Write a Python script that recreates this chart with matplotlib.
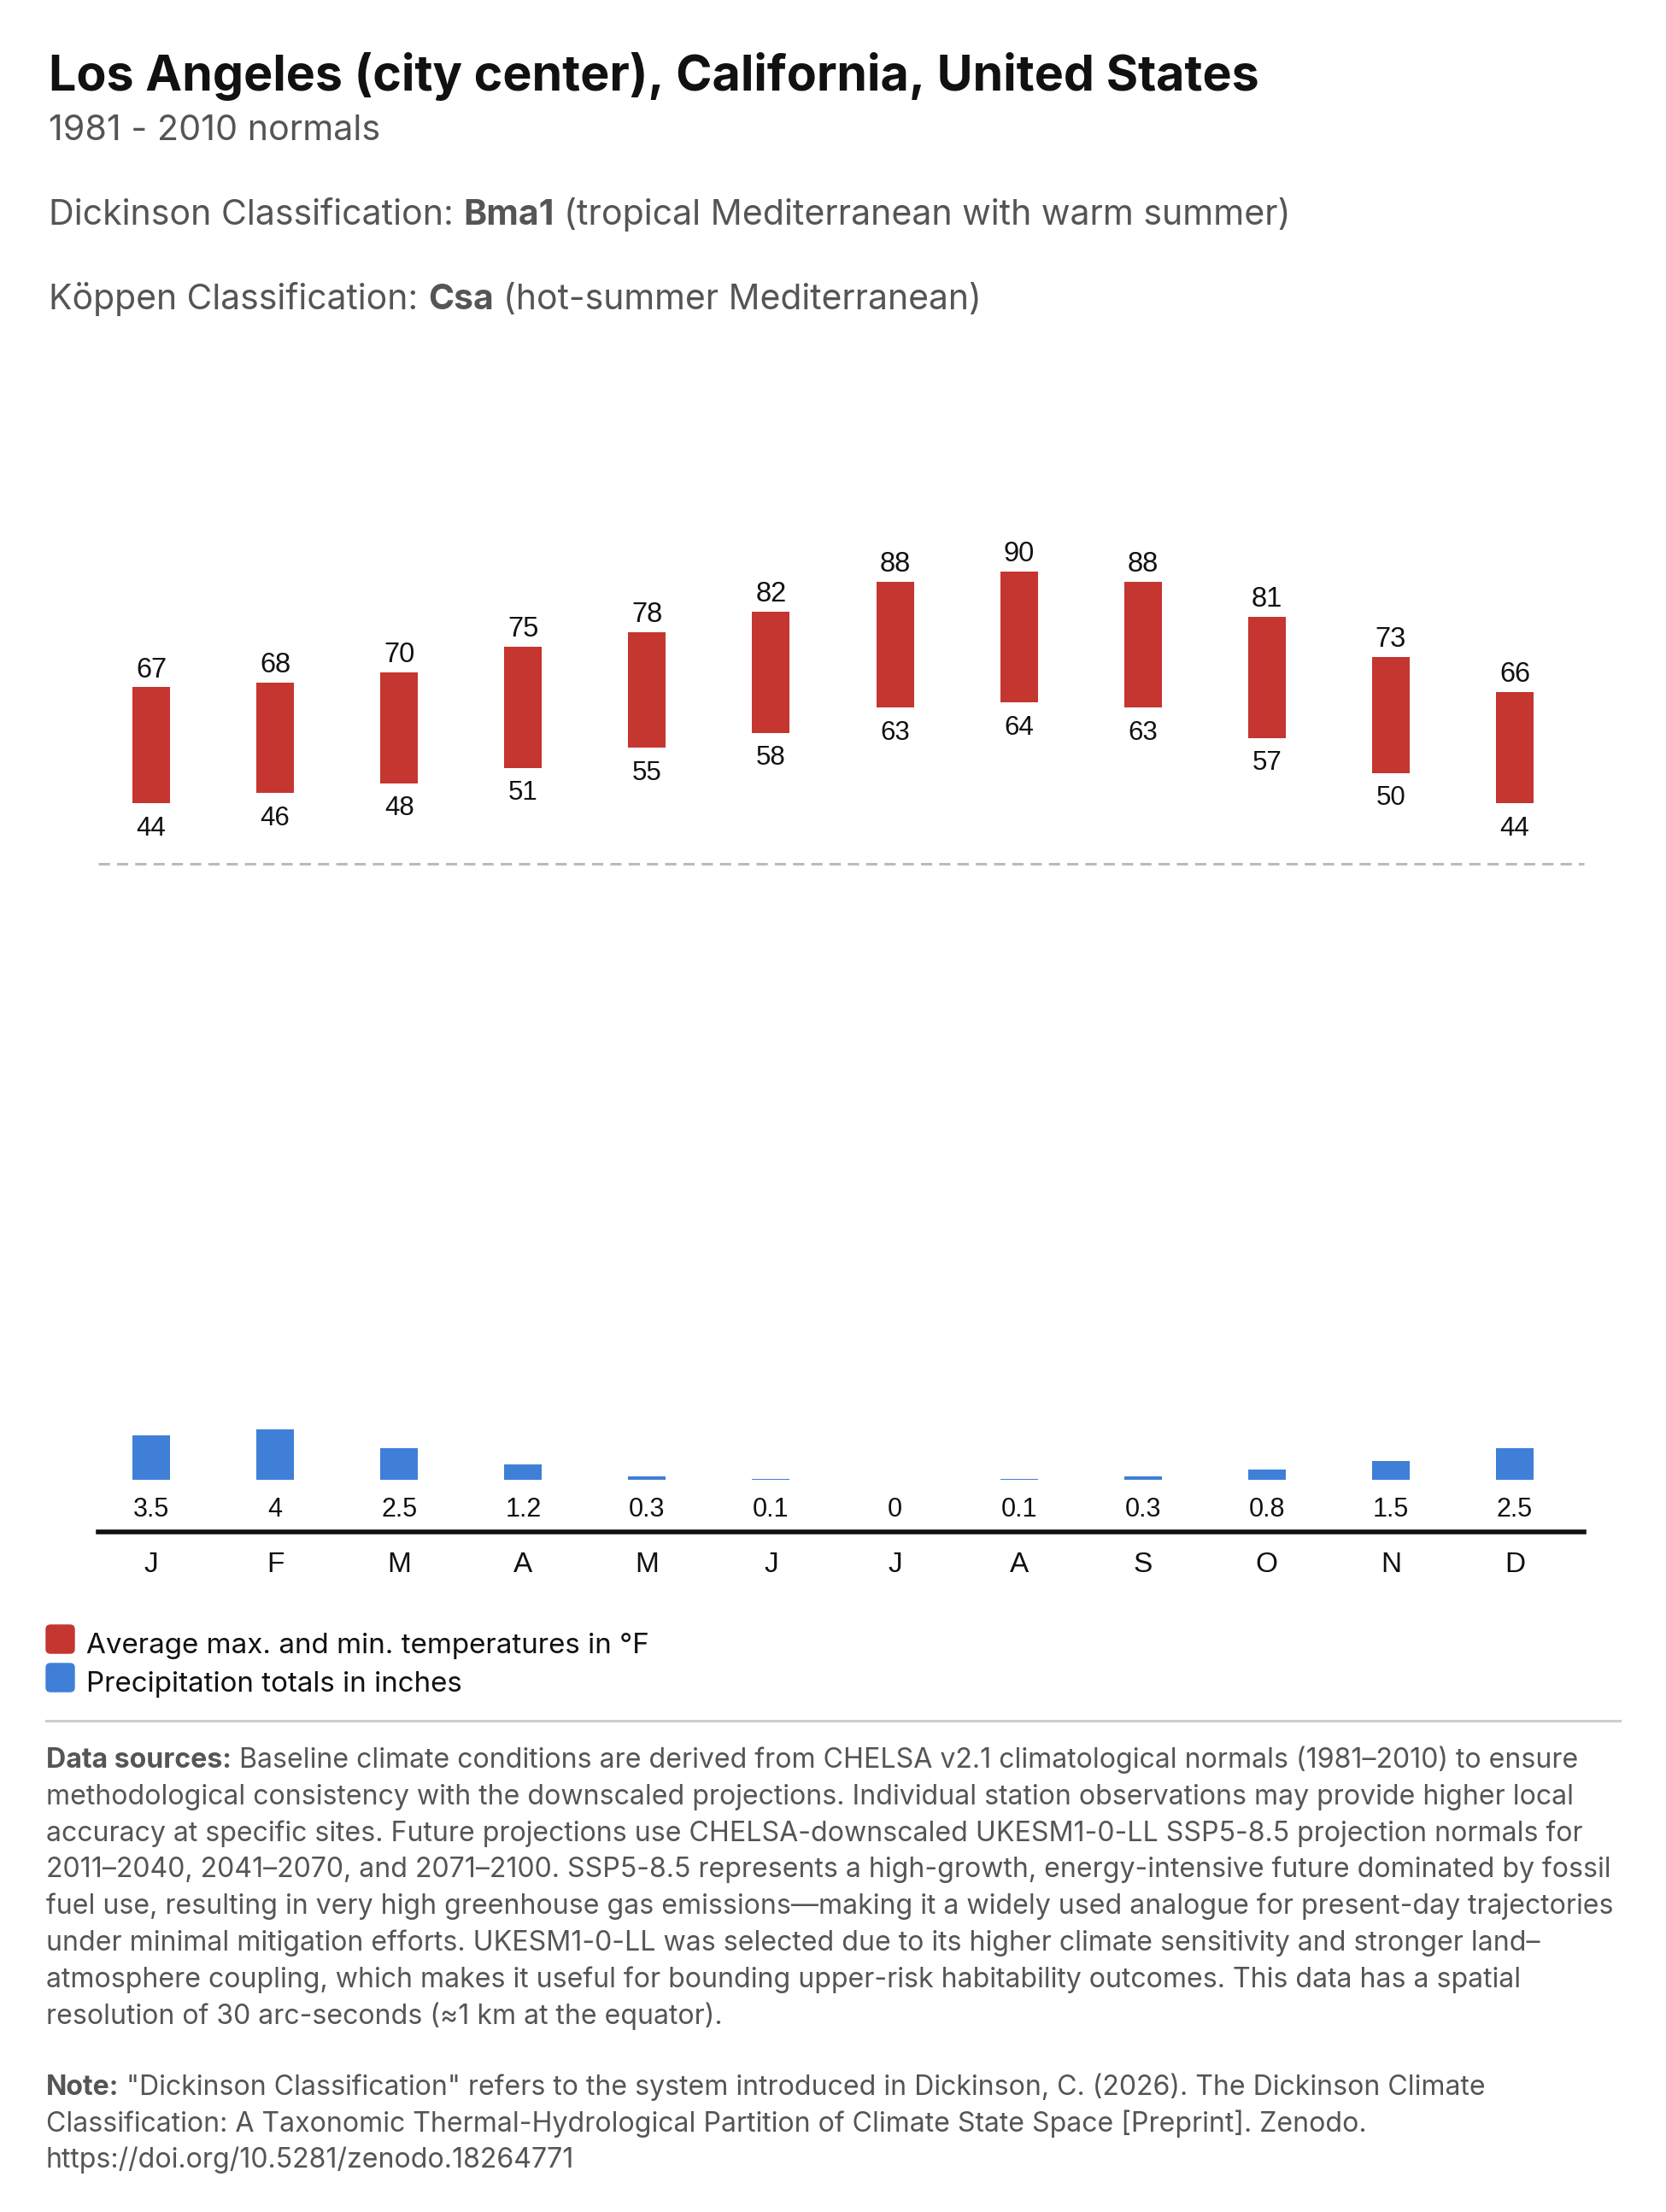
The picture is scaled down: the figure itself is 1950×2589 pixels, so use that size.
import matplotlib.pyplot as plt
from matplotlib.patches import FancyBboxPatch
from matplotlib.lines import Line2D
import numpy as np

# monthly normals, Los Angeles 1981-2010
months = ['J', 'F', 'M', 'A', 'M', 'J', 'J', 'A', 'S', 'O', 'N', 'D']
t_max = [67, 68, 70, 75, 78, 82, 88, 90, 88, 81, 73, 66]
t_min = [44, 46, 48, 51, 55, 58, 63, 64, 63, 57, 50, 44]
precip = [3.5, 4, 2.5, 1.2, 0.3, 0.1, 0, 0.1, 0.3, 0.8, 1.5, 2.5]

title = 'Los Angeles (city center), California, United States'
subtitle = '1981 - 2010 normals'
legend_labels = ['Average max. and min. temperatures in °F', 'Precipitation totals in inches']

sources = [
    'Baseline climate conditions are derived from CHELSA v2.1 climatological normals (1981–2010) to ensure',
    'methodological consistency with the downscaled projections. Individual station observations may provide higher local',
    'accuracy at specific sites. Future projections use CHELSA-downscaled UKESM1-0-LL SSP5-8.5 projection normals for',
    '2011–2040, 2041–2070, and 2071–2100. SSP5-8.5 represents a high-growth, energy-intensive future dominated by fossil',
    'fuel use, resulting in very high greenhouse gas emissions—making it a widely used analogue for present-day trajectories',
    'under minimal mitigation efforts. UKESM1-0-LL was selected due to its higher climate sensitivity and stronger land–',
    'atmosphere coupling, which makes it useful for bounding upper-risk habitability outcomes. This data has a spatial',
    'resolution of 30 arc-seconds (≈1 km at the equator).',
]
note = [
    '"Dickinson Classification" refers to the system introduced in Dickinson, C. (2026). The Dickinson Climate',
    'Classification: A Taxonomic Thermal-Hydrological Partition of Climate State Space [Preprint]. Zenodo.',
    'https://doi.org/10.5281/zenodo.18264771',
]

RED = '#c4362f'
BLUE = '#3f7fd7'
GREY = '#555555'
UI = ['Inter', 'DejaVu Sans']
CH = ['Liberation Sans', 'DejaVu Sans']

W, H = 1950, 2589
fig = plt.figure(figsize=(W / 100, H / 100), dpi=100)
r = fig.canvas.get_renderer()


def fx(x):
    return x / W


def fy(y):
    return 1 - y / H


def text_w(s, size, bold=False):
    t = fig.text(0, 0, s, fontsize=size, family=UI, weight='bold' if bold else 'normal')
    w = t.get_window_extent(r).width
    t.remove()
    return w


def rich(x, y, parts, size, color):
    # parts: list of (string, bold), joined by single spaces
    sp = text_w('x x', size) - text_w('xx', size)
    for s, bold in parts:
        t = fig.text(fx(x), fy(y), s, fontsize=size, family=UI, color=color,
                     weight='bold' if bold else 'normal', va='baseline')
        x += t.get_window_extent(r).width + sp


# header
fig.text(fx(57), fy(106), title, fontsize=41.3, weight='bold', family=UI, color='#111111', va='baseline')
fig.text(fx(57), fy(164), subtitle, fontsize=29.7, family=UI, color=GREY, va='baseline')
rich(57, 263, [('Dickinson Classification:', False), ('Bma1', True),
               ('(tropical Mediterranean with warm summer)', False)], 29.6, GREY)
rich(57, 362, [('Köppen Classification:', False), ('Csa', True),
               ('(hot-summer Mediterranean)', False)], 29.4, GREY)

# chart geometry
x = np.arange(len(months))
x0, x1 = 115, 1854
xlim = (-(177 - 115) / 145.1, 11 + (1854 - 1773) / 145.1)
bw = 0.303

# temperatures
ax_t = fig.add_axes([fx(x0), fy(1011), fx(x1) - fx(x0), (95 - 32) * 5.9 / H])
ax_t.bar(x, np.array(t_max) - np.array(t_min), bottom=t_min, width=bw, color=RED)
ax_t.axhline(32, color='#bbbbbb', lw=2.2, dashes=(4.3, 2.7), clip_on=False)
ax_t.set_xlim(xlim)
ax_t.set_ylim(32, 95)
ax_t.axis('off')
for i in range(len(months)):
    ax_t.annotate(str(t_max[i]), (x[i], t_max[i]), xytext=(0, 8.6), textcoords='offset points',
                  ha='center', va='baseline', fontsize=23.5, family=CH, color='#111111')
    ax_t.annotate(str(t_min[i]), (x[i], t_min[i]), xytext=(0, -27), textcoords='offset points',
                  ha='center', va='baseline', fontsize=22.5, family=CH, color='#111111')

# precipitation
ax_p = fig.add_axes([fx(x0), fy(1792.5), fx(x1) - fx(x0), (1792.5 - 1658) / H])
ax_p.bar(x, precip, width=bw, color=BLUE)
ax_p.set_xlim(xlim)
ax_p.set_ylim(-60.5 / 14.8, 5)
for s in ['top', 'left', 'right']:
    ax_p.spines[s].set_visible(False)
ax_p.spines['bottom'].set_linewidth(4)
ax_p.spines['bottom'].set_color('#111111')
ax_p.set_yticks([])
ax_p.set_xticks(x, months)
ax_p.tick_params(axis='x', length=0, pad=17, labelsize=24, labelcolor='#111111')
for lab in ax_p.get_xticklabels():
    lab.set_family(CH)
ax_p.patch.set_alpha(0)
for i in range(len(months)):
    ax_p.annotate(f'{precip[i]:g}', (x[i], 0), xytext=(0, -31), textcoords='offset points',
                  ha='center', va='baseline', fontsize=22, family=CH, color='#111111')

# legend
for k, (c, lab) in enumerate(zip([RED, BLUE], legend_labels)):
    top = 1902 + k * 45
    fig.patches.append(FancyBboxPatch((57 / 100, (H - top - 30) / 100), 0.27, 0.27,
                                      boxstyle='round,pad=0.03,rounding_size=0.05',
                                      transform=fig.dpi_scale_trans, color=c))
    fig.text(fx(101), fy(1935 + k * 45), lab, fontsize=23.9, family=UI, color='#111111', va='baseline')

# separator
fig.add_artist(Line2D([fx(54), fx(1896)], [fy(2014), fy(2014)], color='#cbcdd1', lw=2.2))

# footnotes
for i, line in enumerate(sources):
    parts = [('Data sources:', True), (line, False)] if i == 0 else [(line, False)]
    rich(54, 2069 + i * 42.8, parts, 23.1, GREY)
for i, line in enumerate(note):
    parts = [('Note:', True), (line, False)] if i == 0 else [(line, False)]
    rich(54, 2452 + i * 42.6, parts, 23.1, GREY)

fig.savefig('out.png', dpi=100, facecolor='white')
